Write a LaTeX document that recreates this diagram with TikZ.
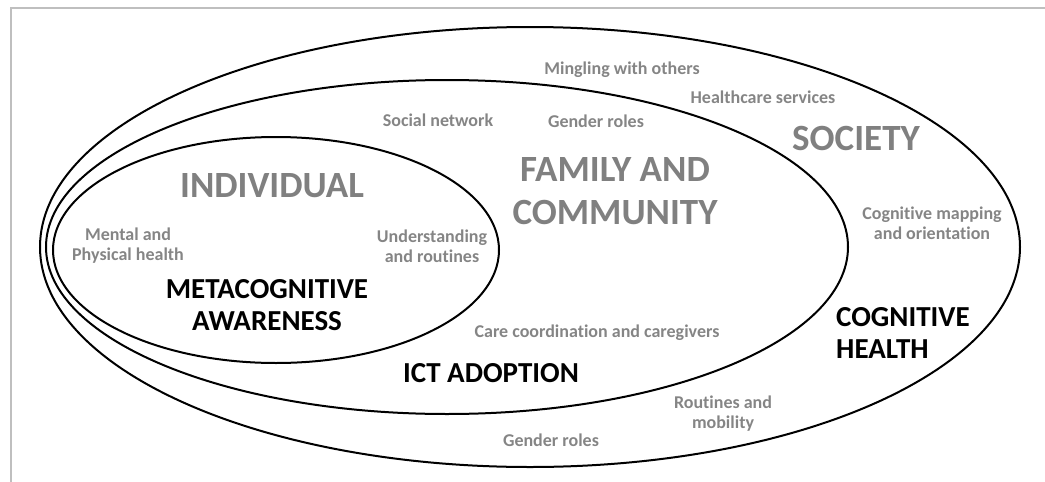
\documentclass[tikz,border=0pt]{standalone}
\usepackage{fontspec}
\setmainfont{Carlito}[Ligatures=NoCommon]
\begin{document}
\begin{tikzpicture}[x=1pt, y=-1pt,
    ring/.style={draw, line width=2pt},
    level/.style={font=\bfseries\fontsize{37}{43}\selectfont, text=black!50, inner sep=0pt, align=center},
    factor/.style={font=\bfseries\fontsize{18}{20}\selectfont, text=black!48, inner sep=0pt, align=center},
    theme/.style={font=\bfseries\fontsize{29}{32}\selectfont, text=black, inner sep=0pt, align=center}
  ]
  \useasboundingbox (0,0) rectangle (1045,482);
  \draw[black!25, line width=1.5pt] (1045,8) -- (11,8) -- (11,482);

  % three nested spheres
  \draw[ring] (530,247) ellipse (490 and 220);
  \draw[ring] (447,247) ellipse (401 and 167);
  \draw[ring] (276,250) ellipse (223 and 113);

  % sphere titles
  \node[level] (indiv) at (272,186) {INDIVIDUAL};
  \node[level] (famcom) at (615,191) {FAMILY AND\\COMMUNITY};
  \node[level] (society) at (856,138) {SOCIETY};

  % outcomes
  \node[theme] (meta) at (267,305) {METACOGNITIVE\\AWARENESS};
  \node[theme] (ict) at (491,373) {ICT ADOPTION};
  \node[theme, align=left, anchor=west] (cog) at (836,333) {COGNITIVE\\HEALTH};

  % factors
  \node[factor] (health) at (128,246) {Mental and\\Physical health};
  \node[factor] (under) at (432,246) {Understanding\\and routines};
  \node[factor] (social) at (438,120) {Social network};
  \node[factor] (gender) at (596,121) {Gender roles};
  \node[factor] (care) at (597,333) {Care coordination and caregivers};
  \node[factor] (mingle) at (622,70) {Mingling with others};
  \node[factor] (services) at (763,97) {Healthcare services};
  \node[factor] (mapping) at (932,223) {Cognitive mapping\\and orientation};
  \node[factor] (mobility) at (723,414) {Routines and\\mobility};
  \node[factor] (gender2) at (551,440) {Gender roles};
\end{tikzpicture}
\end{document}
